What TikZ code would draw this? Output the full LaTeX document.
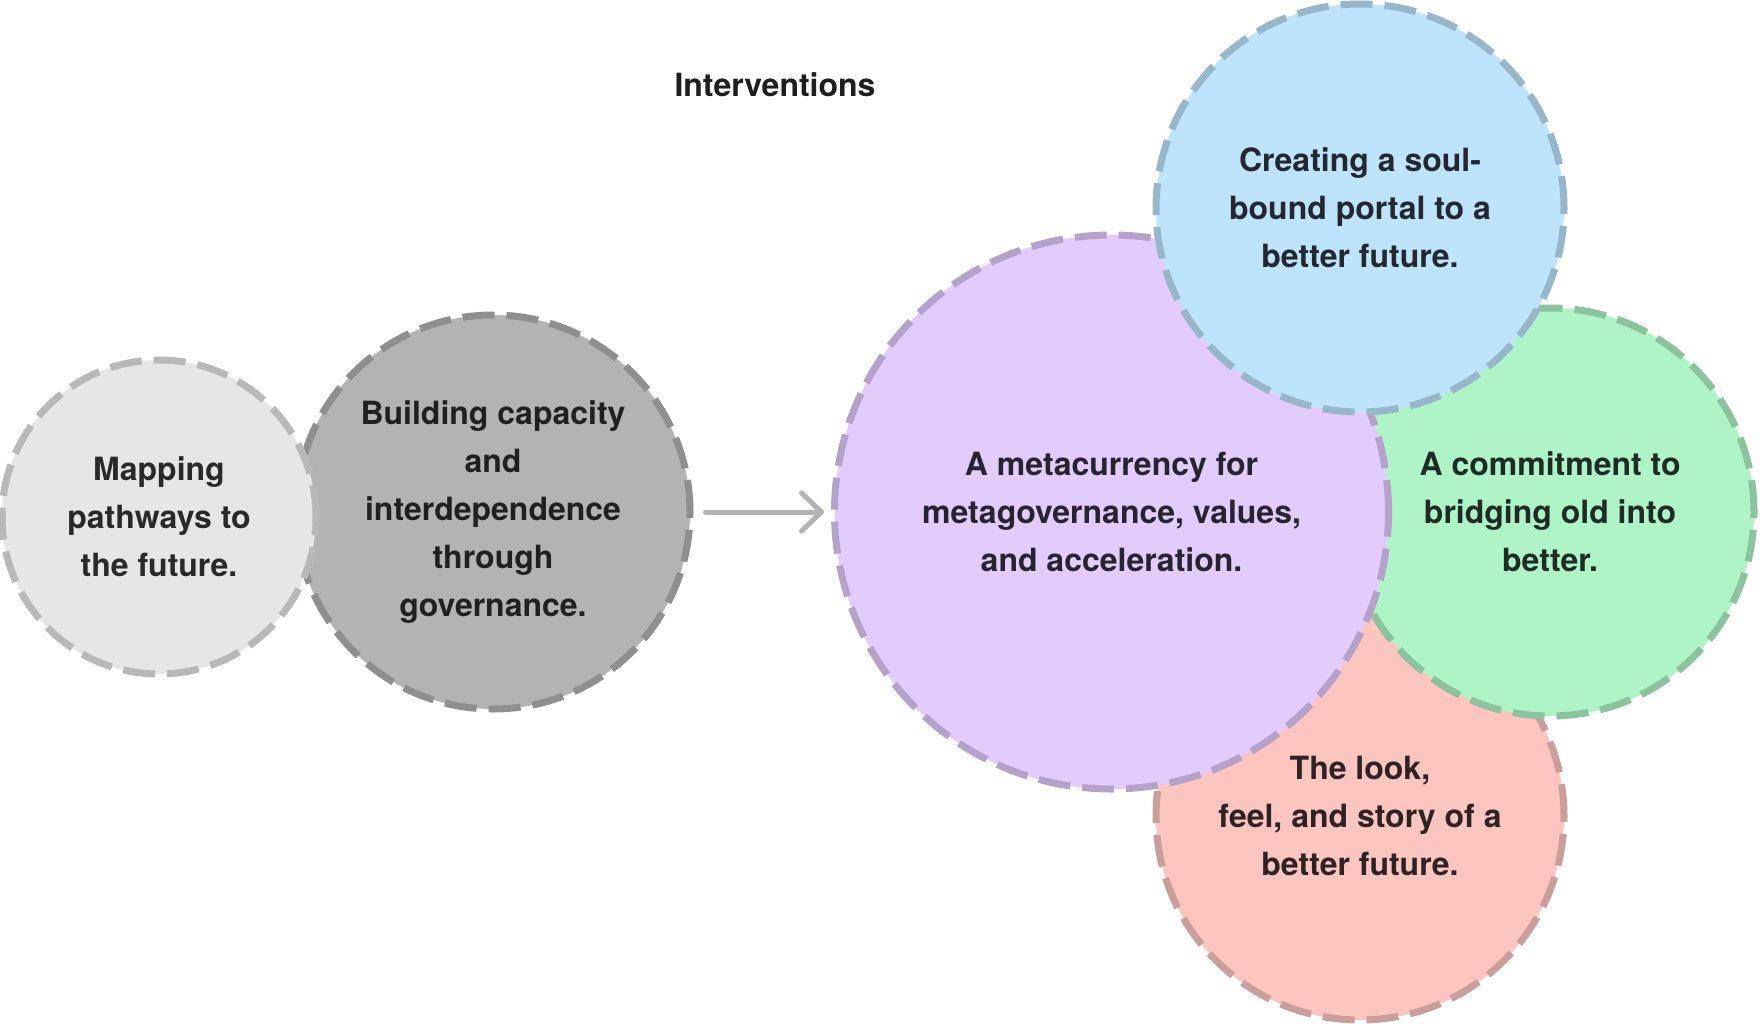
\documentclass[tikz,border=0pt]{standalone}
\usepackage{fontspec}
\setmainfont{TeX Gyre Heros}
\usetikzlibrary{arrows.meta}

% bubble fills; each outline is the fill darkened to 80%
\definecolor{lightgreyfill}{HTML}{E6E6E6}
\definecolor{darkgreyfill}{HTML}{B3B3B3}
\definecolor{purplefill}{HTML}{E2CBFD}
\definecolor{bluefill}{HTML}{BEE3FC}
\definecolor{greenfill}{HTML}{AFF4C7}
\definecolor{redfill}{HTML}{FDC5C0}
\definecolor{arrowgrey}{HTML}{B3B3B3}
\definecolor{titleink}{HTML}{1E1E1E}

\begin{document}
\begin{tikzpicture}[x=1pt, y=-1pt,
  bubble/.style={circle, inner sep=0pt, line width=7pt,
    dash pattern=on 32pt off 12pt,
    fill=#1, draw=#1!80!black,
    align=center, text=black, text opacity=0.82,
    font=\fontsize{32}{48}\selectfont\bfseries},
  flow/.style={draw=arrowgrey, line width=5pt, line cap=round,
    -{Straight Barb[length=20pt, width=38pt, line cap=round, line join=round]}},
  heading/.style={text=titleink, font=\fontsize{32}{40}\selectfont\bfseries}
]
\useasboundingbox (0,0) rectangle (1760,1024);

\node[heading] (title) at (775,84.5) {Interventions};

% left pair
\node[bubble=darkgreyfill, minimum size=394pt] (capacity) at (493,512)
  {Building capacity\\and\\interdependence\\through\\governance.};
\node[bubble=lightgreyfill, minimum size=314pt] (mapping) at (159,517)
  {Mapping\\pathways to\\the future.};

% right cluster
\node[bubble=redfill, minimum size=408pt] (look) at (1360,816)
  {The look,\\feel, and story of a\\better future.};
\node[bubble=greenfill, minimum size=408pt] (bridge) at (1550,512)
  {A commitment to\\bridging old into\\better.};
\node[bubble=purplefill, minimum size=554pt] (meta) at (1111.5,512)
  {A metacurrency for\\metagovernance, values,\\and acceleration.};
\node[bubble=bluefill, minimum size=408pt] (portal) at (1360,208)
  {Creating a soul-\\bound portal to a\\better future.};

\draw[flow, shorten <=12pt, shorten >=7pt] (capacity) -- (meta);
\end{tikzpicture}
\end{document}
